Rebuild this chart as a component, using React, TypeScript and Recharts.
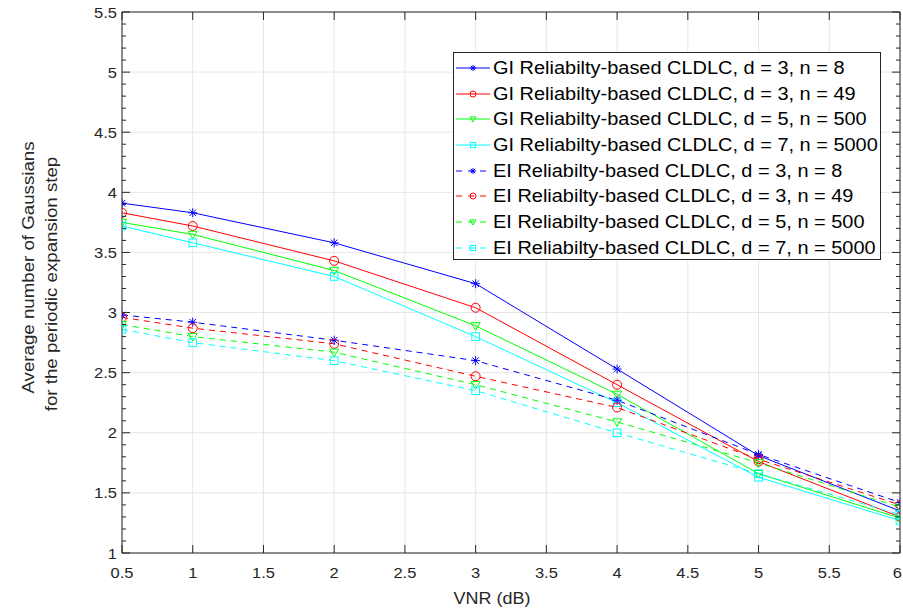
import React from 'react';
import { LineChart, Line, XAxis, YAxis, CartesianGrid } from 'recharts';

const xValues = [0.5, 1, 2, 3, 4, 5, 6];
const giD3N8 = [3.91, 3.83, 3.58, 3.24, 2.53, 1.81, 1.35];
const giD3N49 = [3.83, 3.72, 3.43, 3.04, 2.40, 1.76, 1.30];
const giD5N500 = [3.75, 3.65, 3.35, 2.89, 2.32, 1.66, 1.29];
const giD7N5000 = [3.72, 3.58, 3.30, 2.80, 2.25, 1.63, 1.27];
const eiD3N8 = [2.98, 2.92, 2.77, 2.60, 2.27, 1.82, 1.42];
const eiD3N49 = [2.96, 2.87, 2.74, 2.47, 2.21, 1.78, 1.40];
const eiD5N500 = [2.90, 2.80, 2.67, 2.40, 2.09, 1.75, 1.38];
const eiD7N5000 = [2.86, 2.75, 2.60, 2.35, 2.00, 1.66, 1.32];

const xTicks = [0.5, 1, 1.5, 2, 2.5, 3, 3.5, 4, 4.5, 5, 5.5, 6];
const yMajorTicks = [1, 1.5, 2, 2.5, 3, 3.5, 4, 4.5, 5, 5.5];
const yAllTicks: number[] = [];
for (let i = 10; i <= 55; i++) yAllTicks.push(i / 10);

const FONT = '"Liberation Sans", Arial, Helvetica, sans-serif';
const AXIS = '#262626';

type SeriesDef = { key: string; label: string; color: string; shape: string; dashed: boolean; values: number[] };

const series: SeriesDef[] = [
  { key: 'giD3N8', label: 'GI Reliabilty-based CLDLC, d = 3, n = 8', color: '#0000ff', shape: 'star', dashed: false, values: giD3N8 },
  { key: 'giD3N49', label: 'GI Reliabilty-based CLDLC, d = 3, n = 49', color: '#ff0000', shape: 'circle', dashed: false, values: giD3N49 },
  { key: 'giD5N500', label: 'GI Reliabilty-based CLDLC, d = 5, n = 500', color: '#00ff00', shape: 'tri', dashed: false, values: giD5N500 },
  { key: 'giD7N5000', label: 'GI Reliabilty-based CLDLC, d = 7, n = 5000', color: '#00ffff', shape: 'square', dashed: false, values: giD7N5000 },
  { key: 'eiD3N8', label: 'EI Reliabilty-based CLDLC, d = 3, n = 8', color: '#0000ff', shape: 'star', dashed: true, values: eiD3N8 },
  { key: 'eiD3N49', label: 'EI Reliabilty-based CLDLC, d = 3, n = 49', color: '#ff0000', shape: 'circle', dashed: true, values: eiD3N49 },
  { key: 'eiD5N500', label: 'EI Reliabilty-based CLDLC, d = 5, n = 500', color: '#00ff00', shape: 'tri', dashed: true, values: eiD5N500 },
  { key: 'eiD7N5000', label: 'EI Reliabilty-based CLDLC, d = 7, n = 5000', color: '#00ffff', shape: 'square', dashed: true, values: eiD7N5000 },
];

const data = xValues.map((x, i) => {
  const row: Record<string, number> = { x };
  series.forEach((s) => { row[s.key] = s.values[i]; });
  return row;
});

function markerShape(shape: string, cx: number, cy: number, r: number, color: string, key?: string) {
  const common = { stroke: color, strokeWidth: 1, fill: 'none' };
  if (shape === 'star') {
    const d = r * 0.72;
    return (
      <g key={key}>
        <line x1={cx - r} y1={cy} x2={cx + r} y2={cy} {...common} />
        <line x1={cx} y1={cy - r} x2={cx} y2={cy + r} {...common} />
        <line x1={cx - d} y1={cy - d} x2={cx + d} y2={cy + d} {...common} />
        <line x1={cx - d} y1={cy + d} x2={cx + d} y2={cy - d} {...common} />
      </g>
    );
  }
  if (shape === 'circle') {
    return <g key={key}><circle cx={cx} cy={cy} r={r} {...common} /></g>;
  }
  if (shape === 'tri') {
    const pts = `${cx - r},${cy - r * 0.7} ${cx + r},${cy - r * 0.7} ${cx},${cy + r * 1.0}`;
    return <g key={key}><polygon points={pts} {...common} /></g>;
  }
  const s = r * 0.85;
  return <g key={key}><rect x={cx - s} y={cy - s} width={2 * s} height={2 * s} {...common} /></g>;
}

const isMajor = (v: number) => Math.abs(v * 2 - Math.round(v * 2)) < 1e-6;
const fmt = (v: number) => String(Math.round(v * 10) / 10);

const LeftTick = (props: any) => {
  const { x, y, payload } = props;
  const v = payload.value;
  const major = isMajor(v);
  return (
    <g>
      <line x1={x} y1={y} x2={x + (major ? 8 : 4)} y2={y} stroke={AXIS} strokeWidth={1} />
      {major && (
        <text transform={`translate(${x - 5},${y + 5.5}) scale(1.1,1)`} x={0} y={0} textAnchor="end" fontSize={15} fontFamily={FONT} fill={AXIS}>
          {fmt(v)}
        </text>
      )}
    </g>
  );
};

const RightTick = (props: any) => {
  const { x, y, payload } = props;
  const major = isMajor(payload.value);
  return <line x1={x} y1={y} x2={x - (major ? 8 : 4)} y2={y} stroke={AXIS} strokeWidth={1} />;
};

const BottomTick = (props: any) => {
  const { x, y, payload } = props;
  const last = payload.value === xTicks[xTicks.length - 1];
  return (
    <g>
      <line x1={x} y1={y} x2={x} y2={y - 8} stroke={AXIS} strokeWidth={1} />
      <text
        transform={`translate(${last ? x + 2 : x},${y + 25}) scale(1.1,1)`}
        x={0}
        y={0}
        textAnchor={last ? 'end' : 'middle'}
        fontSize={15}
        fontFamily={FONT}
        fill={AXIS}
      >
        {fmt(payload.value)}
      </text>
    </g>
  );
};

const TopTick = (props: any) => {
  const { x, y } = props;
  return <line x1={x} y1={y} x2={x} y2={y + 8} stroke={AXIS} strokeWidth={1} />;
};

const YLabel = () => (
  <g>
    <text transform="translate(28,267.5) rotate(-90) scale(1.1,1)" x={0} y={0} textAnchor="middle" dominantBaseline="central" fontSize={17} fontFamily={FONT} fill={AXIS}>
      Average number of Gaussians
    </text>
    <text transform="translate(51,284) rotate(-90) scale(1.1,1)" x={0} y={0} textAnchor="middle" dominantBaseline="central" fontSize={17} fontFamily={FONT} fill={AXIS}>
      for the periodic expansion step
    </text>
  </g>
);

const XLabel = () => (
  <text transform="translate(492,604) scale(1.06,1)" x={0} y={0} textAnchor="middle" fontSize={17} fontFamily={FONT} fill={AXIS}>
    VNR (dB)
  </text>
);

const LegendBox = () => (
  <div
    style={{
      position: 'absolute',
      left: 453,
      top: 52,
      width: 428,
      height: 208,
      boxSizing: 'border-box',
      border: `1px solid ${AXIS}`,
      background: '#ffffff',
      paddingTop: 2,
      fontFamily: FONT,
      fontSize: 17.5,
      color: '#000',
    }}
  >
    {series.map((s) => (
      <div key={s.key} style={{ display: 'flex', alignItems: 'center', height: 25.7 }}>
        <svg width={36} height={14} style={{ marginLeft: 1, marginRight: 2, flex: 'none' }}>
          <line x1={1} y1={7} x2={35} y2={7} stroke={s.color} strokeWidth={1} strokeDasharray={s.dashed ? '6 6' : undefined} />
          {markerShape(s.shape, 18, 7, 3, s.color)}
        </svg>
        <span
          style={{
            whiteSpace: 'nowrap',
            lineHeight: '20px',
            display: 'inline-block',
            transform: 'scaleX(1.14)',
            transformOrigin: 'left center',
          }}
        >
          {s.label}
        </span>
      </div>
    ))}
  </div>
);

export default function App() {
  return (
    <div style={{ position: 'absolute', left: 0, top: 0, width: 903, height: 612, background: '#fff' }}>
      <LineChart width={903} height={612} data={data} margin={{ top: 0, right: 0, bottom: 0, left: 0 }}>
        <CartesianGrid
          horizontalValues={yMajorTicks}
          verticalValues={xTicks}
          stroke="#e6e6e6"
          strokeWidth={1}
        />
        <XAxis
          dataKey="x"
          type="number"
          domain={[0.5, 6]}
          ticks={xTicks}
          interval={0}
          height={59}
          tickSize={0}
          tickMargin={0}
          tick={<BottomTick />}
          axisLine={{ stroke: AXIS }}
          tickLine={false}
          label={<XLabel />}
          allowDataOverflow
        />
        <XAxis
          xAxisId="top"
          orientation="top"
          dataKey="x"
          type="number"
          domain={[0.5, 6]}
          ticks={xTicks}
          interval={0}
          height={12}
          tickSize={0}
          tickMargin={0}
          tick={<TopTick />}
          axisLine={{ stroke: AXIS }}
          tickLine={false}
          allowDataOverflow
        />
        <YAxis
          type="number"
          domain={[1, 5.5]}
          ticks={yAllTicks}
          interval={0}
          width={122}
          tickSize={0}
          tickMargin={0}
          tick={<LeftTick />}
          axisLine={{ stroke: AXIS }}
          tickLine={false}
          label={<YLabel />}
          allowDataOverflow
        />
        <YAxis
          yAxisId="right"
          orientation="right"
          type="number"
          domain={[1, 5.5]}
          ticks={yAllTicks}
          interval={0}
          width={3}
          tickSize={0}
          tickMargin={0}
          tick={<RightTick />}
          axisLine={{ stroke: AXIS }}
          tickLine={false}
          allowDataOverflow
        />
        {series.map((s) => (
          <Line
            key={s.key}
            type="linear"
            dataKey={s.key}
            stroke={s.color}
            strokeWidth={1}
            strokeDasharray={s.dashed ? '6 5' : undefined}
            isAnimationActive={false}
            dot={(p: any) => markerShape(s.shape, p.cx, p.cy, 4.5, s.color, `${s.key}-${p.index}`)}
            activeDot={false}
          />
        ))}
      </LineChart>
      <LegendBox />
    </div>
  );
}
